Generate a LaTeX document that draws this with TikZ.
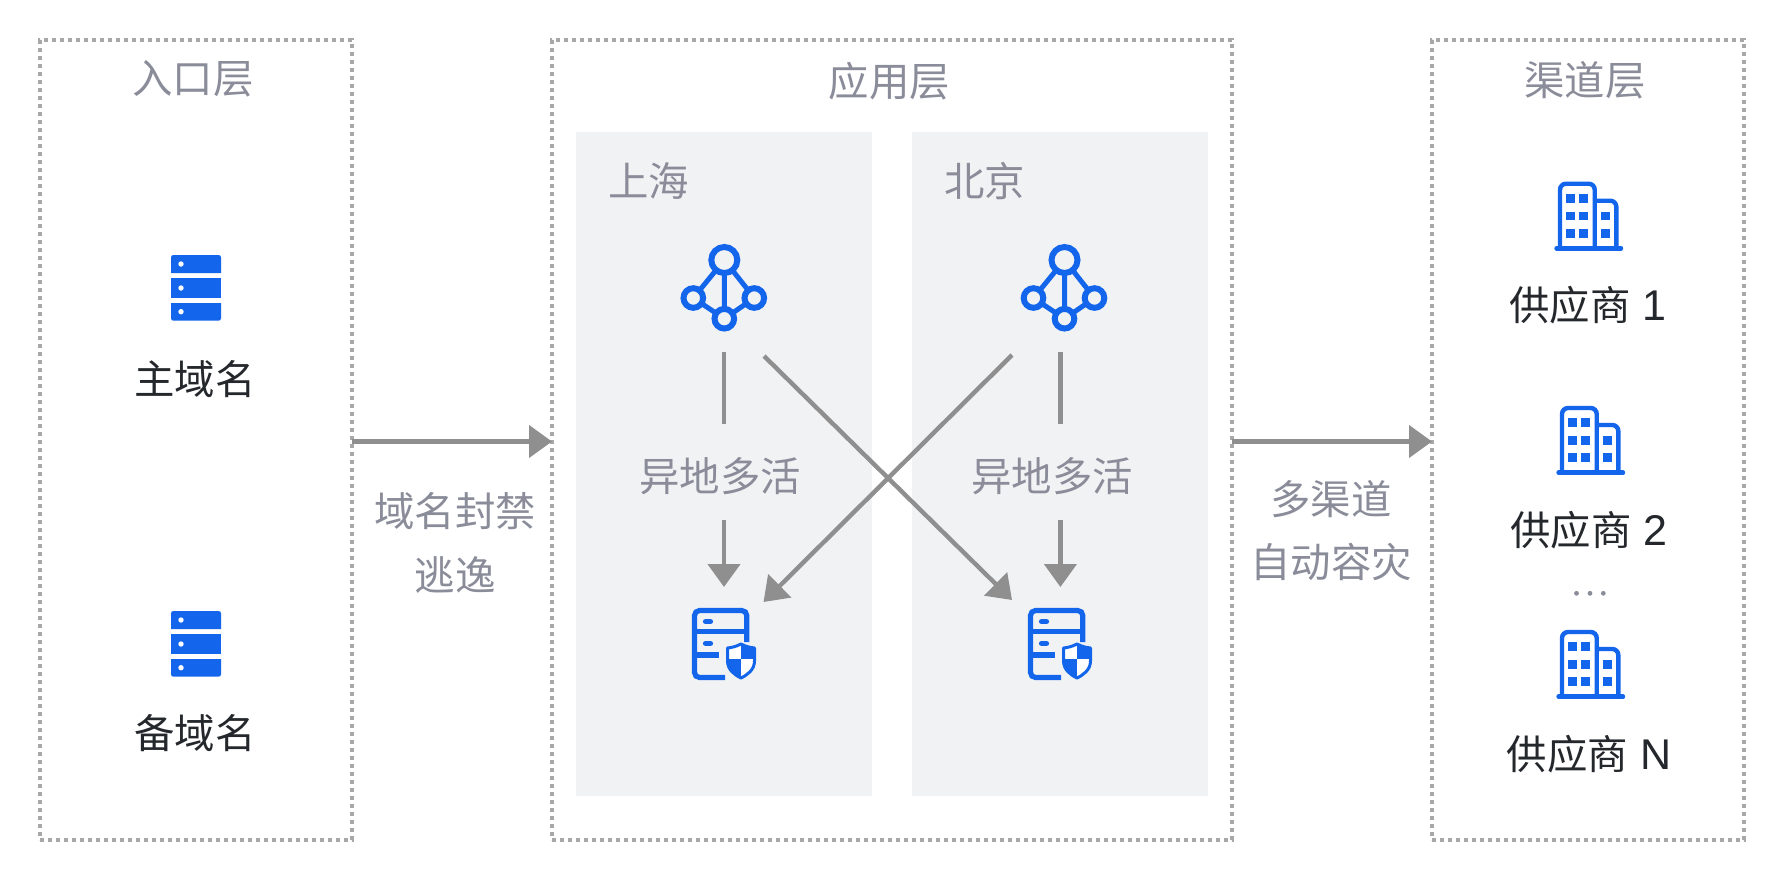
\documentclass[tikz,border=0pt]{standalone}
\usepackage{fontspec}
\setmainfont{Liberation Sans}
\newfontfamily\cjk{Noto Sans CJK SC}
\usetikzlibrary{arrows.meta,calc}
\definecolor{iconblue}{HTML}{1366EC}
\definecolor{labelgray}{HTML}{8A8D99}
\definecolor{labeldark}{HTML}{24272B}
\definecolor{linegray}{HTML}{8F8F8F}
\definecolor{dotgray}{HTML}{A8A8A8}
\definecolor{panelgray}{HTML}{F1F2F4}
\newcommand{\latinpart}[1]{\hspace{6pt}{\rmfamily\fontsize{21.5pt}{24pt}\selectfont #1}}
\tikzset{
  x=0.5pt,y=-0.5pt,
  dotbox/.style={draw=dotgray,line width=1.75pt,dash pattern=on 2pt off 2pt,inner sep=0pt,outer sep=0pt,fill=none},
  panelbox/.style={fill=panelgray,draw=none,inner sep=0pt,outer sep=0pt},
  txt/.style={inner sep=0pt,font=\cjk\fontsize{20.2pt}{24pt}\selectfont,text height=17.6pt,text depth=2.4pt,anchor=center},
  graytxt/.style={txt,text=labelgray},
  darktxt/.style={txt,text=labeldark},
  conn/.style={draw=linegray,line width=2.2pt},
  connarrow/.style={conn,-{Triangle[length=11.5pt,width=16pt]}},
  serverstack/.pic={
    \fill[iconblue] (0,18) [rounded corners=1.2pt] -- (0,0) -- (50,0) [sharp corners] -- (50,18) -- cycle;
    \fill[iconblue] (0,23) rectangle (50,43);
    \fill[iconblue] (0,48) [sharp corners] -- (50,48) [rounded corners=1.2pt] -- (50,65.7) -- (0,65.7) [sharp corners] -- cycle;
    \fill[white] (10,9) circle[radius=2.7] (10,33) circle[radius=2.7] (10,56.7) circle[radius=2.7];
  },
  networkicon/.pic={
    \draw[iconblue,line width=2.5pt] (-31,38) -- (0,0) -- (30,38) -- (0,58.7) -- (-31,38) (0,0) -- (0,58.7);
    \draw[iconblue,line width=3pt,fill=panelgray] (0,0) circle[radius=13];
    \draw[iconblue,line width=3pt,fill=panelgray] (-31,38) circle[radius=9.8];
    \draw[iconblue,line width=3pt,fill=panelgray] (30,38) circle[radius=9.8];
    \draw[iconblue,line width=3pt,fill=panelgray] (0,58.7) circle[radius=9.8];
  },
  shieldserver/.pic={
    \draw[iconblue,line width=2.6pt,rounded corners=2.5pt] (33,69.5) -- (2.5,69.5) -- (2.5,2.5) -- (54.8,2.5) -- (54.8,34);
    \draw[iconblue,line width=2.6pt] (2.5,23.7) -- (54.8,23.7) (2.5,47) -- (27.3,47);
    \draw[iconblue,line width=2.6pt,line cap=round] (13.5,13.7) -- (18.5,13.7) (13.5,35.3) -- (18.5,35.3);
    \def\shieldpath{(49,36) .. controls (54,38.5) and (58,39.5) .. (62.5,40) -- (62.5,53) .. controls (62.5,62) and (55,67) .. (49,70) .. controls (43,67) and (35.5,62) .. (35.5,53) -- (35.5,40) .. controls (40,39.5) and (44,38.5) .. (49,36) -- cycle}
    \fill[white] \shieldpath;
    \begin{scope}
      \clip \shieldpath;
      \fill[iconblue] (49,30) rectangle (70,51.3);
      \fill[iconblue] (30,51.3) rectangle (49,75);
    \end{scope}
    \draw[iconblue,line width=1.5pt,line join=round] \shieldpath;
  },
  buildingicon/.pic={
    \draw[iconblue,line width=2.2pt,rounded corners=3pt] (7,66.6) -- (7,2) -- (41.7,2) -- (41.7,66.6);
    \draw[iconblue,line width=2.2pt,rounded corners=3pt] (41.7,19) -- (63.3,19) -- (63.3,66.6);
    \draw[iconblue,line width=2.2pt,line cap=round] (3.5,66.6) -- (68,66.6);
    \foreach \ya/\yb in {12.3/21.3,30/38.6,47.3/56}{
      \fill[iconblue] (13.3,\ya) rectangle (22,\yb);
      \fill[iconblue] (26.3,\ya) rectangle (35.3,\yb);
    }
    \foreach \ya/\yb in {30/38.6,47.3/56}{
      \fill[iconblue] (48.3,\ya) rectangle (57,\yb);
    }
  },
}
\begin{document}
\begin{tikzpicture}
\useasboundingbox (0,0) rectangle (1784,880);
\fill[white] (0,0) rectangle (1784,880);

% panels
\node[panelbox,minimum width=148pt,minimum height=332pt] (shanghai) at (724,464) {};
\node[panelbox,minimum width=148pt,minimum height=332pt] (beijing) at (1060,464) {};

% dotted groups
\node[dotbox,minimum width=156pt,minimum height=400pt] (entry) at (196,440) {};
\node[dotbox,minimum width=340pt,minimum height=400pt] (app) at (892,440) {};
\node[dotbox,minimum width=156pt,minimum height=400pt] (channel) at (1588,440) {};

% group titles
\node[graytxt] (entrytitle) at (193,78) {入口层};
\node[graytxt] (apptitle) at (889.5,81) {应用层};
\node[graytxt] (channeltitle) at (1585,80) {渠道层};
\node[graytxt] (shanghaititle) at (648.6,181.6) {上海};
\node[graytxt] (beijingtitle) at (984.5,181.6) {北京};

% entry layer
\pic at (171,255) {serverstack};
\node[darktxt] (primary) at (195,379) {主域名};
\pic at (171,611) {serverstack};
\node[darktxt] (backup) at (195,733) {备域名};

% app layer icons
\pic at (724.3,260) {networkicon};
\pic at (1064.5,260) {networkicon};
\pic at (692,608) {shieldserver};
\pic at (1028,608) {shieldserver};

% connector end points
\coordinate (rowy) at (0,441.5);
\coordinate (shtopa) at (724,352);
\coordinate (shtopb) at (724,424);
\coordinate (shmida) at (724,520);
\coordinate (shmidb) at (724,587);
\coordinate (bjtopa) at (1060.4,352);
\coordinate (bjtopb) at (1060.4,424);
\coordinate (bjmida) at (1060.4,520);
\coordinate (bjmidb) at (1060.4,587);
\coordinate (crossastart) at (764,356);
\coordinate (crossaend) at (1012,600);
\coordinate (crossbstart) at (1012,355);
\coordinate (crossbend) at (763.5,602);

% labels on connectors
\node[graytxt] (shlabel) at (720,476) {异地多活};
\node[graytxt] (bjlabel) at (1052,476) {异地多活};
\node[graytxt] (esc1) at (455,511) {域名封禁};
\node[graytxt] (esc2) at (455,575) {逃逸};
\node[graytxt] (dis1) at (1331,499) {多渠道};
\node[graytxt] (dis2) at (1331,562) {自动容灾};

% connectors
\draw[connarrow] (entry.east |- rowy) -- (app.west |- rowy);
\draw[connarrow] (app.east |- rowy) -- (channel.west |- rowy);
\draw[conn] (shtopa) -- (shtopb);
\draw[connarrow] (shmida) -- (shmidb);
\draw[conn] (bjtopa) -- (bjtopb);
\draw[connarrow] (bjmida) -- (bjmidb);
\draw[connarrow] (crossastart) -- (crossaend);
\draw[connarrow] (crossbstart) -- (crossbend);

% channel layer
\pic at (1553,181.7) {buildingicon};
\node[darktxt] (vendor1) at (1588,305) {供应商\latinpart{1}};
\pic at (1555,406) {buildingicon};
\node[darktxt] (vendor2) at (1589,530) {供应商\latinpart{2}};
\node[fill=labelgray,circle,inner sep=0pt,minimum size=2.4pt] (dota) at (1576.5,593.3) {};
\node[fill=labelgray,circle,inner sep=0pt,minimum size=2.4pt] (dotb) at (1590,593.3) {};
\node[fill=labelgray,circle,inner sep=0pt,minimum size=2.4pt] (dotc) at (1603.3,593.3) {};
\pic at (1555,630) {buildingicon};
\node[darktxt] (vendorn) at (1589,754) {供应商\latinpart{N}};
\end{tikzpicture}
\end{document}
